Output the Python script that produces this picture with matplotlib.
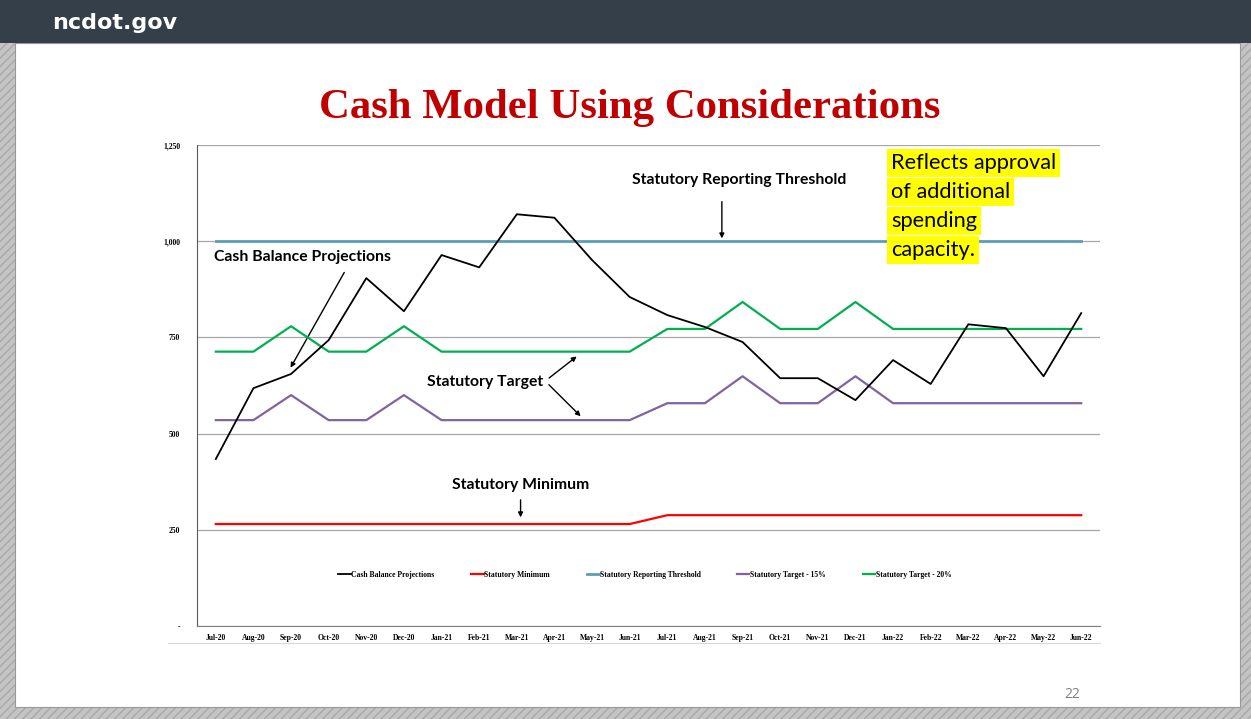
import matplotlib.pyplot as plt
from matplotlib.patches import Rectangle
from matplotlib.lines import Line2D

months = ["Jul-20", "Aug-20", "Sep-20", "Oct-20", "Nov-20", "Dec-20",
          "Jan-21", "Feb-21", "Mar-21", "Apr-21", "May-21", "Jun-21",
          "Jul-21", "Aug-21", "Sep-21", "Oct-21", "Nov-21", "Dec-21",
          "Jan-22", "Feb-22", "Mar-22", "Apr-22", "May-22", "Jun-22"]

cash_balance = [434, 618, 655, 743, 904, 818, 964, 932, 1070, 1061, 951, 855,
                808, 777, 738, 644, 644, 587, 691, 629, 784, 774, 649, 813]
stat_minimum = [265] * 12 + [288] * 12
stat_threshold = [1000] * 24
target_15 = [535, 535, 600, 535, 535, 600, 535, 535, 535, 535, 535, 535,
             579, 579, 649, 579, 579, 649, 579, 579, 579, 579, 579, 579]
target_20 = [713, 713, 779, 713, 713, 779, 713, 713, 713, 713, 713, 713,
             772, 772, 842, 772, 772, 842, 772, 772, 772, 772, 772, 772]

y_ticks = [0, 250, 500, 750, 1000, 1250]
y_labels = ["-", "250", "500", "750", "1,000", "1,250"]

W, H = 1251, 719
fig = plt.figure(figsize=(W / 100, H / 100), dpi=100)
fig.patch.set_facecolor("#c4c4c4")

# slide background / border
fig.add_artist(Rectangle((0, 0), 1, 1, transform=fig.transFigure,
                         facecolor="#c4c4c4", edgecolor="#a8a8a8",
                         hatch="////", lw=0, zorder=0))
fig.add_artist(Rectangle((15 / W, 1 - 707 / H), (1240 - 15) / W, (707 - 43) / H,
                         transform=fig.transFigure, facecolor="white",
                         edgecolor="#999999", lw=0.8, zorder=0.5))
fig.add_artist(Rectangle((0, 1 - 43 / H), 1, 43 / H, transform=fig.transFigure,
                         facecolor="#343f49", edgecolor="none", zorder=1))
fig.text(52 / W, 1 - 23 / H, "ncdot.gov", color="white", fontsize=16,
         fontweight="bold", family="DejaVu Sans", va="center", ha="left")

fig.text(630 / W, 1 - 108 / H, "Cash Model Using Considerations",
         color="#c00000", fontsize=30.8, fontweight="bold",
         family="Liberation Serif", ha="center", va="center")
fig.text(1072 / W, 1 - 695 / H, "22", color="#7f7f7f", fontsize=10,
         family="Open Sans", ha="center", va="center")

# faint chart-area border under the month labels
fig.add_artist(Line2D([168 / W, 1100 / W], [1 - 643 / H, 1 - 643 / H],
                      transform=fig.transFigure, color="#d9d9d9", lw=0.8, zorder=1))

ax = fig.add_axes([197 / W, 1 - 626 / H, 903 / W, 481 / H])
ax.set_zorder(2)
ax.patch.set_alpha(0)
x = list(range(len(months)))

ax.plot(x, cash_balance, color="black", lw=1.3, label="Cash Balance Projections", zorder=5)
ax.plot(x, stat_minimum, color="#ff0000", lw=1.6, label="Statutory Minimum", zorder=4)
ax.plot(x, stat_threshold, color="#5b9fb5", lw=2.0, label="Statutory Reporting Threshold", zorder=4)
ax.plot(x, target_15, color="#8064a2", lw=1.6, label="Statutory Target - 15%", zorder=4)
ax.plot(x, target_20, color="#00b050", lw=1.6, label="Statutory Target - 20%", zorder=4)

ax.set_xlim(-0.5, 23.5)
ax.set_ylim(0, 1250)
ax.set_yticks(y_ticks)
ax.set_yticklabels(y_labels)
ax.set_xticks(x)
ax.set_xticklabels(months)
for lab in ax.get_xticklabels() + ax.get_yticklabels():
    lab.set_fontfamily("Liberation Serif")
    lab.set_fontweight("bold")
    lab.set_fontsize(5.5)
ax.tick_params(axis="both", length=0, pad=6)
ax.tick_params(axis="y", pad=12)
ax.yaxis.grid(True, color="#a6a6a6", lw=0.9)
ax.set_axisbelow(True)
for s in ["top", "right"]:
    ax.spines[s].set_visible(False)
ax.spines["left"].set_color("#595959")
ax.spines["bottom"].set_color("#808080")

leg = ax.legend(loc="center", bbox_to_anchor=(0.496, 0.106), ncol=5,
                frameon=False, handlelength=1.6, columnspacing=4.8,
                handletextpad=0.1,
                prop={"family": "Liberation Serif", "weight": "bold", "size": 5.5})

ann = dict(family="Lato", fontweight="bold", fontsize=11.3, color="black")
arrow = dict(arrowstyle="-|>", color="black", lw=1.0, mutation_scale=7)

ax.annotate("", xy=(13.45, 1000), xytext=(13.45, 1110), arrowprops=arrow)
ax.text(13.9, 1160, "Statutory Reporting Threshold", ha="center", va="center", **ann)

ax.text(-0.05, 960, "Cash Balance Projections", ha="left", va="center", **ann)
ax.annotate("", xy=(1.95, 665), xytext=(3.45, 925), arrowprops=arrow)

ax.text(5.6, 635, "Statutory Target", ha="left", va="center", **ann)
ax.annotate("", xy=(9.65, 705), xytext=(8.8, 640), arrowprops=arrow)
ax.annotate("", xy=(9.75, 540), xytext=(8.8, 632), arrowprops=arrow)

ax.text(8.1, 366, "Statutory Minimum", ha="center", va="center", **ann)
ax.annotate("", xy=(8.1, 275), xytext=(8.1, 335), arrowprops=arrow)

hl = dict(family="Lato", fontsize=15.7, color="black", ha="left", va="center",
          bbox=dict(facecolor="#ffff00", edgecolor="none", pad=3))
for i, line in enumerate(["Reflects approval", "of additional", "spending", "capacity."]):
    fig.text(891 / W, 1 - (163 + 29 * i) / H, line, zorder=3, **hl)

fig.savefig("out.png", dpi=100, facecolor=fig.get_facecolor())
